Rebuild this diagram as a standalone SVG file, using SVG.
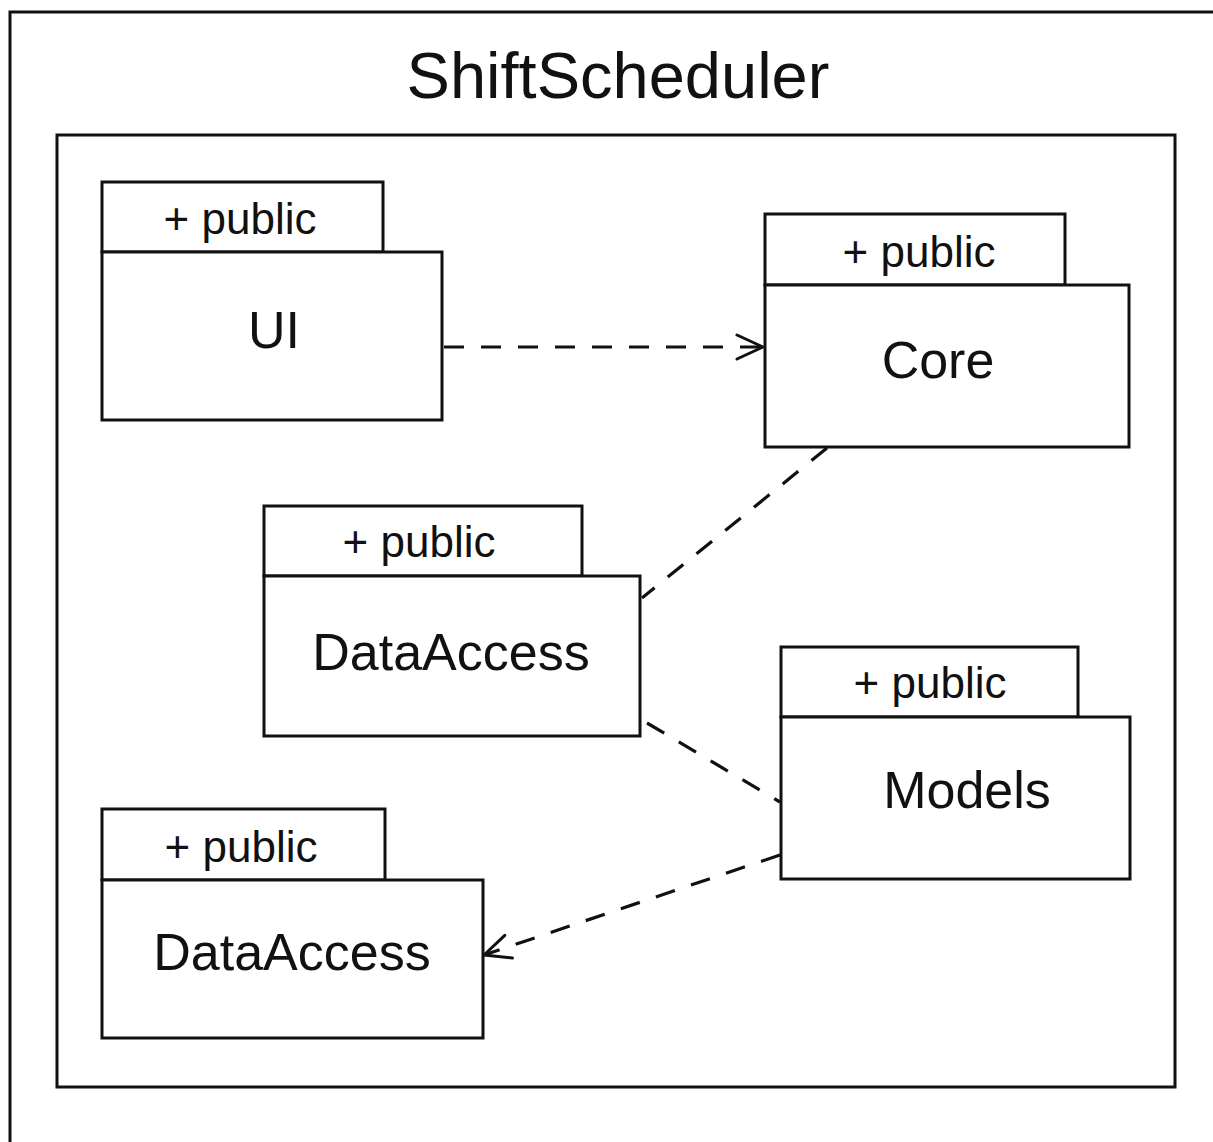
<svg xmlns="http://www.w3.org/2000/svg" width="1213" height="1142" viewBox="0 0 1213 1142">
  <style>
    .frame { fill: #ffffff; stroke: #111111; stroke-width: 3; }
    .tab { fill: #ffffff; stroke: #111111; stroke-width: 3; }
    .body { fill: #ffffff; stroke: #111111; stroke-width: 3; }
    .lbl { font-family: "Liberation Sans", Arial, sans-serif; fill: #111111; text-anchor: middle; }
    .vis { font-size: 44px; }
    .name { font-size: 52px; }
    .title { font-size: 65px; }
    .dep { fill: none; stroke: #111111; stroke-width: 3.2; stroke-dasharray: 20 17; }
    .arrowed { marker-end: url(#open); }
  </style>
  <defs>
    <marker id="open" viewBox="0 0 30 30" refX="28" refY="15" markerWidth="30" markerHeight="30" markerUnits="userSpaceOnUse" orient="auto">
      <path d="M2,3 L28,15 L2,27" fill="none" stroke="#111111" stroke-width="3" stroke-linecap="round" stroke-linejoin="round"/>
    </marker>
  </defs>

  <rect width="1213" height="1142" fill="#ffffff"/>

  <!-- outer package frame (runs past the right and bottom edges) -->
  <g id="shiftscheduler">
    <rect class="frame" x="10" y="12" width="1240" height="1160"/>
    <text class="lbl title" x="618" y="98">ShiftScheduler</text>
  </g>

  <!-- inner container -->
  <g id="container">
    <rect class="frame" x="57" y="135" width="1118" height="952"/>
  </g>

  <!-- packages -->
  <g id="pkg-ui">
    <rect class="tab" x="102" y="182" width="281" height="70"/>
    <rect class="body" x="102" y="252" width="340" height="168"/>
    <text class="lbl vis" x="240" y="234">+ public</text>
    <text class="lbl name" x="274" y="348">UI</text>
  </g>

  <g id="pkg-core">
    <rect class="tab" x="765" y="214" width="300" height="71"/>
    <rect class="body" x="765" y="285" width="364" height="162"/>
    <text class="lbl vis" x="919" y="267">+ public</text>
    <text class="lbl name" x="938" y="378">Core</text>
  </g>

  <g id="pkg-dataaccess-mid">
    <rect class="tab" x="264" y="506" width="318" height="70"/>
    <rect class="body" x="264" y="576" width="376" height="160"/>
    <text class="lbl vis" x="419" y="557">+ public</text>
    <text class="lbl name" x="451" y="670">DataAccess</text>
  </g>

  <g id="pkg-models">
    <rect class="tab" x="781" y="647" width="297" height="70"/>
    <rect class="body" x="781" y="717" width="349" height="162"/>
    <text class="lbl vis" x="930" y="698">+ public</text>
    <text class="lbl name" x="967" y="808">Models</text>
  </g>

  <g id="pkg-dataaccess-low">
    <rect class="tab" x="102" y="809" width="283" height="71"/>
    <rect class="body" x="102" y="880" width="381" height="158"/>
    <text class="lbl vis" x="241" y="862">+ public</text>
    <text class="lbl name" x="292" y="970">DataAccess</text>
  </g>

  <!-- dependencies -->
  <g id="connectors">
    <path class="dep arrowed" d="M444,347 L763,347"/>
    <path class="dep" d="M827,448 L642,598"/>
    <path class="dep" d="M647,723 L780,802"/>
    <path class="dep arrowed" d="M780,855 L484,955"/>
  </g>
</svg>
